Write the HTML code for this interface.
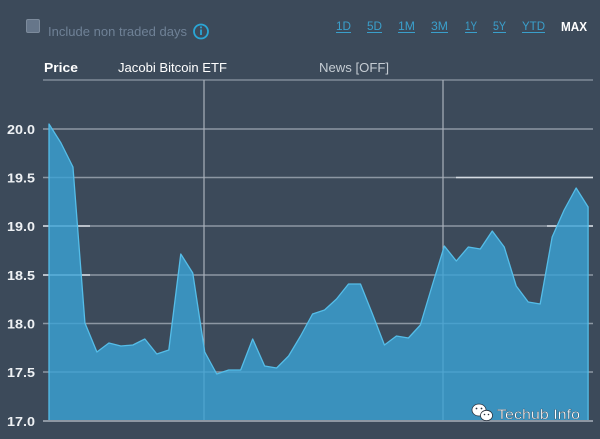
<!DOCTYPE html>
<html>
<head>
<meta charset="utf-8">
<style>
html,body{margin:0;padding:0;background:#3c4a5a;}
svg{display:block;}
text{font-family:"Liberation Sans","DejaVu Sans",sans-serif;}
</style>
</head>
<body>
<svg width="600" height="439" viewBox="0 0 600 439" xmlns="http://www.w3.org/2000/svg">
<rect x="0" y="0" width="600" height="439" fill="#3c4a5a"/>

<!-- header controls -->
<rect x="26.5" y="19.5" width="13" height="13" rx="1.5" fill="#66768a" stroke="#7d8b9c" stroke-width="1"/>
<text x="48" y="36" font-size="13" fill="#6f8196" textLength="139" lengthAdjust="spacingAndGlyphs">Include non traded days</text>
<circle cx="201" cy="31.5" r="7" fill="none" stroke="#2aa6d6" stroke-width="1.8"/>
<rect x="200.1" y="29.5" width="1.8" height="5.5" fill="#2aa6d6"/>
<rect x="200.1" y="26.5" width="1.8" height="1.8" fill="#2aa6d6"/>

<g font-size="12" fill="#3a9fcb">
<text x="336" y="30" textLength="15" lengthAdjust="spacingAndGlyphs">1D</text>
<text x="367" y="30" textLength="15" lengthAdjust="spacingAndGlyphs">5D</text>
<text x="398" y="30" textLength="17" lengthAdjust="spacingAndGlyphs">1M</text>
<text x="431" y="30" textLength="17" lengthAdjust="spacingAndGlyphs">3M</text>
<text x="465" y="30" textLength="12" lengthAdjust="spacingAndGlyphs">1Y</text>
<text x="493" y="30" textLength="13" lengthAdjust="spacingAndGlyphs">5Y</text>
<text x="522" y="30" textLength="23" lengthAdjust="spacingAndGlyphs">YTD</text>
</g>
<g stroke="#3a9fcb" stroke-width="1">
<line x1="336" y1="32.5" x2="351" y2="32.5"/>
<line x1="367" y1="32.5" x2="382" y2="32.5"/>
<line x1="398" y1="32.5" x2="415" y2="32.5"/>
<line x1="431" y1="32.5" x2="448" y2="32.5"/>
<line x1="465" y1="32.5" x2="477" y2="32.5"/>
<line x1="493" y1="32.5" x2="506" y2="32.5"/>
<line x1="522" y1="32.5" x2="545" y2="32.5"/>
</g>
<text x="561" y="31" font-size="13" font-weight="bold" fill="#ffffff" textLength="26" lengthAdjust="spacingAndGlyphs">MAX</text>

<!-- chart title row -->
<text x="44" y="72" font-size="13" font-weight="bold" fill="#ffffff" textLength="34" lengthAdjust="spacingAndGlyphs">Price</text>
<text x="118" y="72" font-size="13" fill="#ffffff" textLength="109" lengthAdjust="spacingAndGlyphs">Jacobi Bitcoin ETF</text>
<text x="319" y="72" font-size="13" fill="#c5ccd3" textLength="70" lengthAdjust="spacingAndGlyphs">News [OFF]</text>

<!-- grid (under area) -->
<g stroke="#8d97a3" stroke-width="1.6">
<line x1="43" y1="80" x2="593" y2="80" stroke-width="1.2"/>
<line x1="43" y1="129" x2="593" y2="129"/>
<line x1="43" y1="177.5" x2="593" y2="177.5"/>
<line x1="43" y1="226" x2="593" y2="226"/>
<line x1="43" y1="275" x2="593" y2="275"/>
<line x1="43" y1="323.5" x2="593" y2="323.5"/>
<line x1="43" y1="372" x2="593" y2="372"/>
<line x1="43" y1="421" x2="593" y2="421" stroke-width="2"/>
</g>
<g stroke="#d5dbe2" stroke-width="1.6">
<line x1="43" y1="226" x2="90" y2="226"/>
<line x1="43" y1="275" x2="90" y2="275"/>
<line x1="547" y1="226" x2="593" y2="226"/>
<line x1="456" y1="177.5" x2="593" y2="177.5"/>
</g>
<g stroke="#a9b1bb" stroke-width="1.2">
<line x1="204" y1="80" x2="204" y2="421"/>
<line x1="443" y1="80" x2="443" y2="421"/>
</g>

<!-- area -->
<polygon fill="#3aa2d6" fill-opacity="0.8" points="49,421 49,124 60.98,143 72.96,167 84.94,323 96.92,352 108.9,343 120.88,346 132.86,345 144.84,339 156.82,354 168.8,350 180.78,254 192.76,273 204.74,352 216.72,374 228.7,370 240.68,370 252.66,339 264.64,366 276.62,368 288.6,356 300.58,336 312.56,314 324.54,310 336.52,299 348.5,284 360.48,284 372.46,314 384.44,345 396.42,336 408.4,338 420.38,325 432.36,285 444.34,246 456.32,261 468.3,247 480.28,249 492.26,231 504.24,247 516.22,286 528.2,302 540.18,304 552.16,237 564.14,210 576.12,188 588.1,207 588.1,421"/>
<polyline fill="none" stroke="#55bde8" stroke-width="1.3" stroke-linejoin="round" points="49,421 49,124 60.98,143 72.96,167 84.94,323 96.92,352 108.9,343 120.88,346 132.86,345 144.84,339 156.82,354 168.8,350 180.78,254 192.76,273 204.74,352 216.72,374 228.7,370 240.68,370 252.66,339 264.64,366 276.62,368 288.6,356 300.58,336 312.56,314 324.54,310 336.52,299 348.5,284 360.48,284 372.46,314 384.44,345 396.42,336 408.4,338 420.38,325 432.36,285 444.34,246 456.32,261 468.3,247 480.28,249 492.26,231 504.24,247 516.22,286 528.2,302 540.18,304 552.16,237 564.14,210 576.12,188 588.1,207 588.1,421"/>
<line x1="43" y1="421" x2="593" y2="421" stroke="#8d97a3" stroke-width="2"/>

<!-- y labels -->
<g font-size="13" font-weight="bold" fill="#eef1f4" text-anchor="end">
<text x="35" y="134" textLength="28" lengthAdjust="spacingAndGlyphs">20.0</text>
<text x="35" y="182.5" textLength="28" lengthAdjust="spacingAndGlyphs">19.5</text>
<text x="35" y="231" textLength="28" lengthAdjust="spacingAndGlyphs">19.0</text>
<text x="35" y="280" textLength="28" lengthAdjust="spacingAndGlyphs">18.5</text>
<text x="35" y="328.5" textLength="28" lengthAdjust="spacingAndGlyphs">18.0</text>
<text x="35" y="377" textLength="28" lengthAdjust="spacingAndGlyphs">17.5</text>
<text x="35" y="426" textLength="28" lengthAdjust="spacingAndGlyphs">17.0</text>
</g>

<!-- watermark -->
<g fill="#ffffff" stroke="#2b3440" stroke-width="0.8">
<ellipse cx="479" cy="410" rx="7" ry="6"/>
<ellipse cx="486.5" cy="415.5" rx="6" ry="5.2"/>
</g>
<g fill="#2b3440">
<circle cx="476.5" cy="408.5" r="0.9"/>
<circle cx="481.5" cy="408.5" r="0.9"/>
<circle cx="484.5" cy="414.5" r="0.8"/>
<circle cx="488.5" cy="414.5" r="0.8"/>
</g>
<text x="497" y="419" font-size="14" fill="#ffffff" stroke="#2b3440" stroke-width="0.3" textLength="83" lengthAdjust="spacingAndGlyphs">Techub Info</text>
</svg>
</body>
</html>
